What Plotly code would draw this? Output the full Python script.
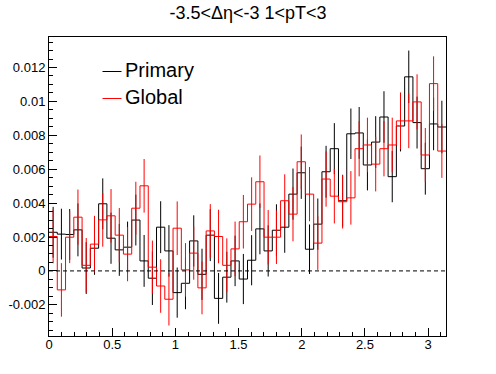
import math
import plotly.graph_objects as go

# ---- data (48 bins from 0 to pi) ----
n_bins = 48
x_min, x_max = 0.0, math.pi

primary_vals = [0.00228, 0.00217, 0.00215, 0.00242, 0.00017, 0.00134, 0.00396, 0.00193,
                0.00124, 0.00140, 0.00300, 0.00059, -0.00043, 0.00258, 0.00118, -0.00128,
                -0.00073, 0.00177, -0.00020, 0.00211, -0.00162, -0.00037, 0.00059, -0.00048,
                0.00063, 0.00248, 0.00118, 0.00240, 0.00258, 0.00453, 0.00579, 0.00128,
                0.00276, 0.00585, 0.00721, 0.00414, 0.00809, 0.00814, 0.00625, 0.00760,
                0.00908, 0.00556, 0.00855, 0.01145, 0.00875, 0.00603, 0.00867, 0.00849]
primary_errs = [0.00150, 0.00150, 0.00150, 0.00156, 0.00153, 0.00157, 0.00150, 0.00151,
                0.00153, 0.00151, 0.00150, 0.00153, 0.00158, 0.00153, 0.00152, 0.00148,
                0.00153, 0.00151, 0.00151, 0.00153, 0.00150, 0.00150, 0.00149, 0.00148,
                0.00148, 0.00150, 0.00151, 0.00153, 0.00151, 0.00151, 0.00154, 0.00146,
                0.00151, 0.00153, 0.00151, 0.00153, 0.00149, 0.00153, 0.00150, 0.00153,
                0.00152, 0.00151, 0.00150, 0.00155, 0.00153, 0.00153, 0.00155, 0.00155]

global_vals = [0.00203, -0.00112, 0.00199, 0.00317, 0.00033, 0.00158, 0.00301, 0.00325,
               0.00211, 0.00099, 0.00370, 0.00502, 0.00022, -0.00089, -0.00167, 0.00252,
               0.00006, 0.00105, -0.00100, 0.00236, 0.00203, 0.00033, 0.00130, 0.00290,
               0.00394, 0.00526, 0.00199, 0.00199, 0.00414, 0.00335, 0.00644, 0.00453,
               0.00164, 0.00542, 0.00441, 0.00408, 0.00431, 0.00721, 0.00743, 0.00630,
               0.00721, 0.00743, 0.00885, 0.00885, 0.00997, 0.00684, 0.01105, 0.00707]
global_errs = [0.00158, 0.00158, 0.00153, 0.00163, 0.00161, 0.00167, 0.00158, 0.00158,
               0.00160, 0.00160, 0.00156, 0.00158, 0.00157, 0.00158, 0.00155, 0.00158,
               0.00158, 0.00157, 0.00156, 0.00158, 0.00158, 0.00159, 0.00161, 0.00158,
               0.00158, 0.00155, 0.00160, 0.00158, 0.00156, 0.00160, 0.00161, 0.00160,
               0.00158, 0.00163, 0.00161, 0.00158, 0.00158, 0.00163, 0.00161, 0.00161,
               0.00163, 0.00161, 0.00168, 0.00161, 0.00163, 0.00159, 0.00161, 0.00158]

x_tick_vals = [0, 0.5, 1, 1.5, 2, 2.5, 3]
x_tick_text = ["0", "0.5", "1", "1.5", "2", "2.5", "3"]
y_tick_vals = [-0.002, 0, 0.002, 0.004, 0.006, 0.008, 0.01, 0.012]
y_tick_text = ["-0.002", "0", "0.002", "0.004", "0.006", "0.008", "0.01", "0.012"]

title_text = "-3.5<\u0394\u03b7<-3 1<pT<3"
series_names = ["Primary", "Global"]
series_colors = ["#000000", "#ff0000"]

# ---- derived bin geometry ----
width = (x_max - x_min) / n_bins
edges = [x_min + i * width for i in range(n_bins + 1)]
centers = [x_min + (i + 0.5) * width for i in range(n_bins)]

W, H = 496, 374
L, R, T, B = 49, 50, 37, 38
FONT = "Liberation Sans, Arial, Helvetica, sans-serif"

fig = go.Figure()

for vals, errs, name, col in [(primary_vals, primary_errs, series_names[0], series_colors[0]),
                              (global_vals, global_errs, series_names[1], series_colors[1])]:
    fig.add_trace(go.Scatter(
        x=edges, y=vals + [vals[-1]], mode="lines", line_shape="hv",
        line=dict(color=col, width=1), name=name, showlegend=False, hoverinfo="skip"))
    fig.add_trace(go.Scatter(
        x=centers, y=vals, mode="markers", marker=dict(size=0.1, color=col, opacity=0),
        error_y=dict(type="data", array=errs, visible=True, color=col, thickness=1, width=0),
        showlegend=False, hoverinfo="skip"))

# zero dashed line
fig.add_shape(type="line", xref="x", yref="y", x0=x_min, x1=x_max, y0=0, y1=0,
              line=dict(color="black", width=1, dash="4px,3px"))

pw, ph = W - L - R, H - T - B
def px2paper(px, py):
    return (px - L) / pw, (H - B - py) / ph

# legend drawn manually
for i, (name, col) in enumerate(zip(series_names, series_colors)):
    ly = 71.5 + i * 27
    x0p, y0p = px2paper(102.5, ly)
    x1p, _ = px2paper(121.5, ly)
    fig.add_shape(type="line", xref="paper", yref="paper", x0=x0p, x1=x1p, y0=y0p, y1=y0p,
                  line=dict(color=col, width=1))
    tx, ty = px2paper(122.5, ly - 1.5)
    fig.add_annotation(x=tx, y=ty, xref="paper", yref="paper", text=name, showarrow=False,
                       xanchor="left", yanchor="middle", font=dict(family=FONT, size=20, color="black"))

axis_common = dict(showline=True, linecolor="black", linewidth=1, mirror=True,
                   ticks="inside", ticklen=8, tickcolor="black", tickwidth=1,
                   showgrid=False, zeroline=False, automargin=False,
                   tickfont=dict(family=FONT, size=13, color="black"))

fig.update_xaxes(range=[x_min, x_max], tickmode="array", tickvals=x_tick_vals, ticktext=x_tick_text,
                 ticklabelstandoff=-4,
                 minor=dict(ticks="inside", ticklen=4, tickcolor="black", dtick=0.1, tick0=0, showgrid=False),
                 **axis_common)
fig.update_yaxes(range=[-0.00384, 0.0138], tickmode="array", tickvals=y_tick_vals, ticktext=y_tick_text,
                 minor=dict(ticks="inside", ticklen=4, tickcolor="black", dtick=0.0005, tick0=0, showgrid=False),
                 **axis_common)

fig.update_layout(
    width=W, height=H,
    margin=dict(l=L, r=R, t=T, b=B, pad=0),
    paper_bgcolor="white", plot_bgcolor="white",
    title=dict(text=title_text, x=0.5, xanchor="center", y=1 - 13 / H, yanchor="middle",
               font=dict(family=FONT, size=18, color="black")),
    showlegend=False,
)

fig.write_html("out.html", config={"displayModeBar": False, "staticPlot": True},
               post_script="document.body.style.margin='0';document.body.style.padding='0';")
